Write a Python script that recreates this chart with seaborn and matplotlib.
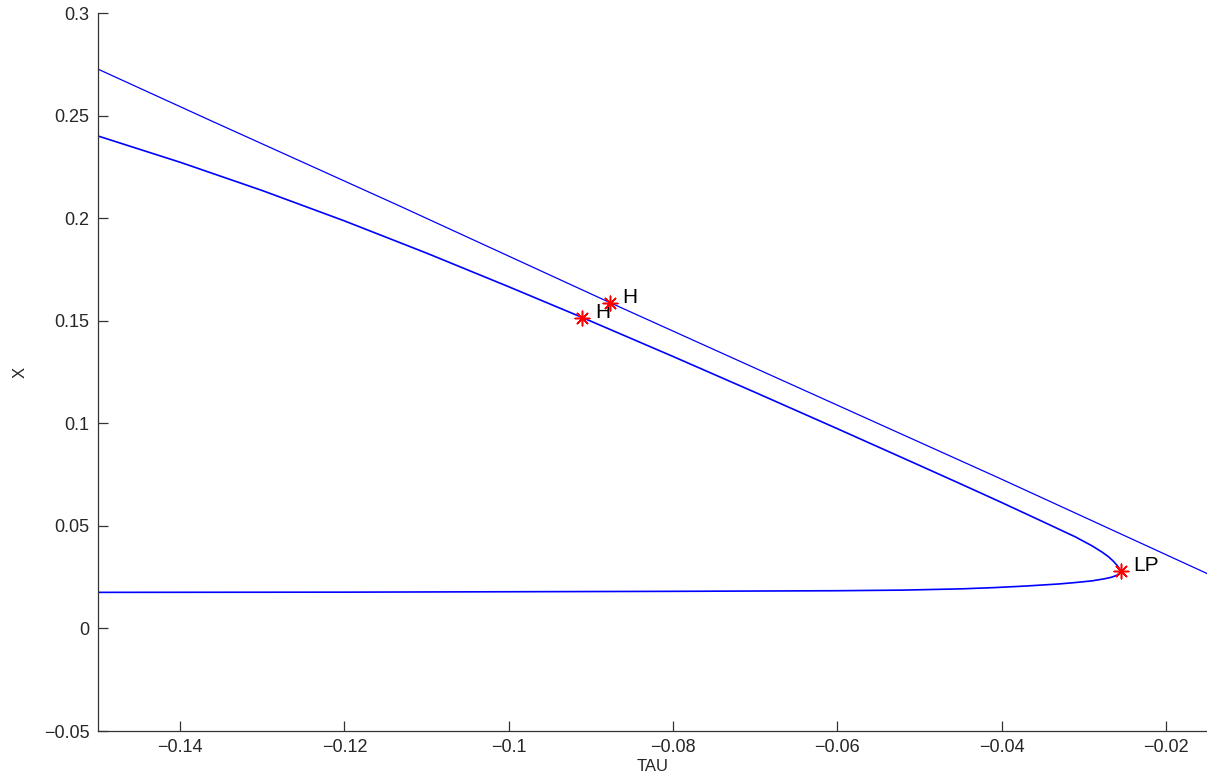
import matplotlib
matplotlib.use("Agg")
import matplotlib.pyplot as plt
import seaborn as sns
import pandas as pd

# Equilibrium branch through the two Hopf points and the limit point
tau_branch = [-0.15, -0.14, -0.13, -0.12, -0.11, -0.10, -0.09105, -0.08,
              -0.07, -0.06, -0.05, -0.045, -0.04, -0.035, -0.031, -0.029,
              -0.0278, -0.0270, -0.0264, -0.0259, -0.02565, -0.02547,
              -0.02565, -0.0260, -0.0266, -0.0275, -0.0290, -0.0310, -0.0330,
              -0.0370, -0.0410, -0.0450, -0.0520, -0.0600, -0.0800, -0.1000,
              -0.1200, -0.15]
x_branch = [0.2401, 0.2273, 0.2135, 0.1987, 0.1830, 0.1666, 0.1516, 0.1326,
            0.1151, 0.0974, 0.0795, 0.0705, 0.0614, 0.0521, 0.0446, 0.0403,
            0.0373, 0.0350, 0.0328, 0.0305, 0.0291, 0.0282,
            0.0270, 0.0259, 0.0250, 0.0242, 0.0232, 0.0224, 0.0217,
            0.0207, 0.0199, 0.0193, 0.0187, 0.0184, 0.0181, 0.0179,
            0.0177, 0.0176]

# Second, nearly straight branch
tau_line = [-0.15, -0.13644, -0.11335, -0.0877, -0.07077, -0.04035, -0.015]
x_line = [0.2727, 0.2479, 0.2061, 0.1589, 0.1283, 0.0734, 0.0268]

# Labelled special points
pt_tau = [-0.0877, -0.09105, -0.02547]
pt_x = [0.1589, 0.1516, 0.0282]
pt_label = ["H", "H", "LP"]

sns.set_style("ticks")
plt.rcParams["font.family"] = ["Liberation Sans", "DejaVu Sans"]
plt.rcParams["axes.unicode_minus"] = True

fig = plt.figure(figsize=(12.07, 7.82), dpi=100)
ax = fig.add_axes([0.0812, 0.0652, 0.9188, 0.918])

branch = pd.DataFrame({"TAU": tau_branch, "X": x_branch})
line = pd.DataFrame({"TAU": tau_line, "X": x_line})
pts = pd.DataFrame({"TAU": pt_tau, "X": pt_x, "label": pt_label})

sns.lineplot(data=line, x="TAU", y="X", sort=False, estimator=None,
             color="#0000ff", linewidth=0.9, ax=ax)
sns.lineplot(data=branch, x="TAU", y="X", sort=False, estimator=None,
             color="#0000ff", linewidth=1.2, ax=ax)
sns.scatterplot(data=pts, x="TAU", y="X", marker=(8, 2, 0), s=110,
                color="red", edgecolor="red", linewidth=1.1, zorder=5, ax=ax)

for _, r in pts.iterrows():
    ax.annotate(r["label"], (r["TAU"], r["X"]), xytext=(9, 0),
                textcoords="offset points", fontsize=15, va="baseline",
                ha="left", color="black")

ax.set_xlim(-0.15, -0.015)
ax.set_ylim(-0.05, 0.3)
ax.set_xticks([-0.14, -0.12, -0.1, -0.08, -0.06, -0.04, -0.02])
ax.set_xticklabels(["\u22120.14", "\u22120.12", "\u22120.1", "\u22120.08",
                    "\u22120.06", "\u22120.04", "\u22120.02"])
ax.set_yticks([-0.05, 0, 0.05, 0.1, 0.15, 0.2, 0.25, 0.3])
ax.set_yticklabels(["\u22120.05", "0", "0.05", "0.1", "0.15", "0.2",
                    "0.25", "0.3"])
ax.tick_params(direction="in", length=7, width=0.9, color="#333333",
               labelsize=13, pad=6)
ax.set_xlabel("TAU", fontsize=12, labelpad=2)
ax.set_ylabel("X", fontsize=12, labelpad=12)
for s in ["top", "right"]:
    ax.spines[s].set_visible(False)
for s in ["left", "bottom"]:
    ax.spines[s].set_color("#333333")
    ax.spines[s].set_linewidth(0.9)

fig.savefig("out.png", dpi=100)
